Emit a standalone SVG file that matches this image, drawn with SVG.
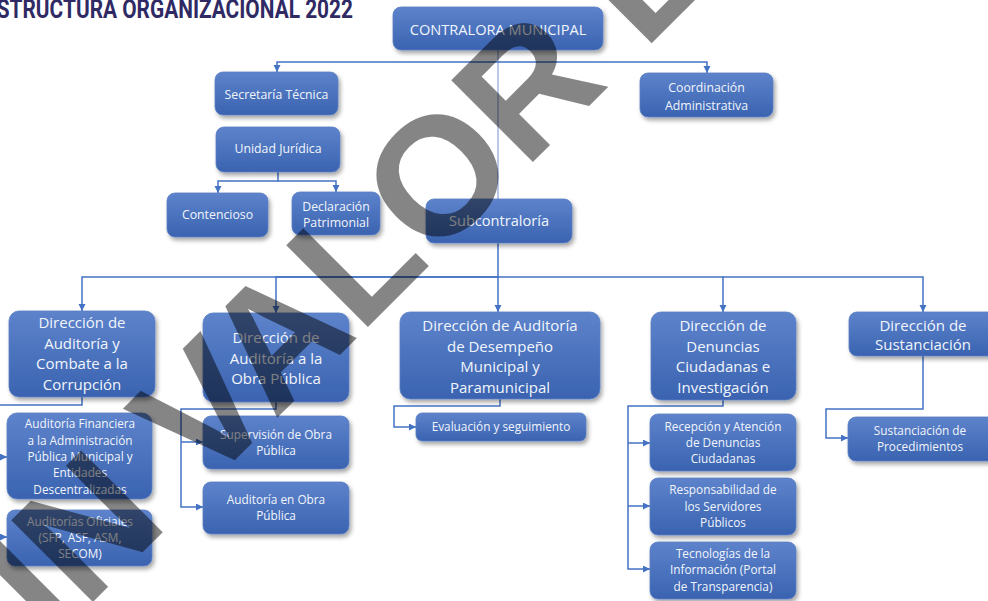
<svg xmlns="http://www.w3.org/2000/svg" width="988" height="601" viewBox="0 0 988 601">
<style>
.box{fill:url(#g);stroke:#5a7fc4;stroke-width:0.8;filter:url(#sh)}
.t{font-family:"Open Sans","Noto Sans","DejaVu Sans",sans-serif;fill:#f2f5fc;text-anchor:middle}
.s1{font-size:12.3px}
.s0{font-size:14.6px}
.s2{font-size:15px}
.s3{font-size:11.8px}
.c{fill:none;stroke:#4472c4;stroke-width:1.5}
.ca{fill:none;stroke:#4472c4;stroke-width:1.5;marker-end:url(#ar)}
.title{font-family:Roboto,"Liberation Sans",sans-serif;font-weight:bold;font-size:26px;fill:#2f2a64}
.wm{font-family:"Liberation Sans",Arial,sans-serif;font-weight:bold;font-size:168px;fill:#000;fill-opacity:0.48}
</style>
<defs>
<linearGradient id="g" x1="0" y1="0" x2="0" y2="1">
<stop offset="0" stop-color="#5d83cb"/>
<stop offset="1" stop-color="#3a63b0"/>
</linearGradient>
<filter id="sh" x="-10%" y="-10%" width="125%" height="135%">
<feDropShadow dx="2" dy="3" stdDeviation="2" flood-color="#000" flood-opacity="0.35"/>
</filter>
<marker id="ar" markerWidth="8" markerHeight="8" refX="7" refY="3.5" orient="auto" markerUnits="userSpaceOnUse">
<path d="M0,0 L7,3.5 L0,7 z" fill="#4472c4"/>
</marker>
</defs>

<text class="title" x="-15" y="18" textLength="368" lengthAdjust="spacingAndGlyphs">ESTRUCTURA ORGANIZACIONAL 2022</text>

<g id="connectors">
<path d="M498,50 V199" fill="none" stroke="#8ea5d8" stroke-width="1.2"/>
<path class="ca" d="M498,62 H277 V72"/>
<path class="ca" d="M498,62 H707 V73"/>
<path class="ca" d="M278,172 V181 H218 V193"/>
<path class="ca" d="M278,181 H336 V192"/>
<path class="ca" d="M498,243 V312"/>
<path class="ca" d="M498,277 H82 V311"/>
<path class="ca" d="M498,277 H276 V313"/>
<path class="ca" d="M498,277 H723 V312"/>
<path class="ca" d="M723,277 H923 V312"/>
<path class="ca" d="M82,397 V405 H-5 V537 H7"/>
<path class="ca" d="M-5,457 H7"/>
<path class="ca" d="M276,402 V409 H181 V507 H203"/>
<path class="ca" d="M181,442 H203"/>
<path class="ca" d="M500,399 V406 H394 V427 H416"/>
<path class="ca" d="M723,400 V406 H628 V569 H650"/>
<path class="ca" d="M628,443 H650"/>
<path class="ca" d="M628,506 H650"/>
<path class="ca" d="M923,356 V409 H826 V438 H848"/>
</g>

<g id="contralora"><rect class="box" x="393" y="7" width="210" height="43" rx="8"/><text class="t s0" x="498" y="35">CONTRALORA MUNICIPAL</text></g>
<g id="secretaria"><rect class="box" x="215" y="72" width="123" height="43" rx="8"/><text class="t s1" x="276.5" y="99">Secretaría Técnica</text></g>
<g id="coordinacion"><rect class="box" x="640" y="73" width="133" height="44" rx="8"/><text class="t s1" x="706.5" y="92">Coordinación<tspan x="706.5" y="110">Administrativa</tspan></text></g>
<g id="juridica"><rect class="box" x="216" y="127" width="124" height="45" rx="8"/><text class="t s1" x="278" y="153">Unidad Jurídica</text></g>
<g id="contencioso"><rect class="box" x="167" y="193" width="101" height="44" rx="8"/><text class="t s1" x="217.5" y="219">Contencioso</text></g>
<g id="declaracion"><rect class="box" x="292" y="192" width="88" height="43" rx="8"/><text class="t s1" x="336" y="211">Declaración<tspan x="336" y="227">Patrimonial</tspan></text></g>
<g id="subcontraloria"><rect class="box" x="426" y="199" width="146" height="44" rx="8"/><text class="t s0" x="499" y="226">Subcontraloría</text></g>

<g id="dir-combate"><rect class="box" x="9" y="311" width="146" height="86" rx="10"/><text class="t s2" x="82" y="328">Dirección de<tspan x="82" y="349">Auditoría y</tspan><tspan x="82" y="369">Combate a la</tspan><tspan x="82" y="390">Corrupción</tspan></text></g>
<g id="dir-obra"><rect class="box" x="203" y="313" width="146" height="89" rx="10"/><text class="t s2" x="276" y="343">Dirección de<tspan x="276" y="363.5">Auditoría a la</tspan><tspan x="276" y="384">Obra Pública</tspan></text></g>
<g id="dir-desempeno"><rect class="box" x="400" y="312" width="200" height="87" rx="10"/><text class="t s2" x="500" y="331">Dirección de Auditoría<tspan x="500" y="352">de Desempeño</tspan><tspan x="500" y="372">Municipal y</tspan><tspan x="500" y="393">Paramunicipal</tspan></text></g>
<g id="dir-denuncias"><rect class="box" x="651" y="312" width="145" height="88" rx="10"/><text class="t s2" x="723" y="331">Dirección de<tspan x="723" y="352">Denuncias</tspan><tspan x="723" y="372">Ciudadanas e</tspan><tspan x="723" y="393">Investigación</tspan></text></g>
<g id="dir-sustanciacion"><rect class="box" x="849" y="312" width="148" height="44" rx="8"/><text class="t s2" x="923" y="331">Dirección de<tspan x="923" y="350">Sustanciación</tspan></text></g>

<g id="aud-financiera"><rect class="box" x="7" y="413" width="145" height="86" rx="10"/><text class="t s3" x="80" y="428">Auditoría Financiera<tspan x="80" y="444.5">a la Administración</tspan><tspan x="80" y="461">Pública Municipal y</tspan><tspan x="80" y="477">Entidades</tspan><tspan x="80" y="493.5">Descentralizadas</tspan></text></g>
<g id="aud-oficiales"><rect class="box" x="7" y="510" width="145" height="56" rx="8"/><text class="t s3" x="80" y="526">Auditorías Oficiales<tspan x="80" y="542">(SFP, ASF, ASM,</tspan><tspan x="80" y="558">SECOM)</tspan></text></g>
<g id="supervision"><rect class="box" x="203" y="416" width="146" height="53" rx="8"/><text class="t s3" x="276" y="439">Supervisión de Obra<tspan x="276" y="455">Pública</tspan></text></g>
<g id="aud-obra"><rect class="box" x="203" y="482" width="146" height="52" rx="8"/><text class="t s3" x="276" y="504">Auditoría en Obra<tspan x="276" y="520">Pública</tspan></text></g>
<g id="evaluacion"><rect class="box" x="416" y="413" width="170" height="28" rx="6"/><text class="t s3" x="501" y="431">Evaluación y seguimiento</text></g>
<g id="recepcion"><rect class="box" x="650" y="414" width="146" height="57" rx="8"/><text class="t s3" x="723" y="431">Recepción y Atención<tspan x="723" y="447">de Denuncias</tspan><tspan x="723" y="463">Ciudadanas</tspan></text></g>
<g id="responsabilidad"><rect class="box" x="650" y="478" width="146" height="57" rx="8"/><text class="t s3" x="723" y="494">Responsabilidad de<tspan x="723" y="511">los Servidores</tspan><tspan x="723" y="527">Públicos</tspan></text></g>
<g id="tecnologias"><rect class="box" x="650" y="542" width="146" height="57" rx="8"/><text class="t s3" x="723" y="558">Tecnologías de la<tspan x="723" y="574">Información (Portal</tspan><tspan x="723" y="591">de Transparencia)</tspan></text></g>
<g id="sust-procedimientos"><rect class="box" x="848" y="417" width="150" height="44" rx="8"/><text class="t s3" x="920" y="435">Sustanciación de<tspan x="920" y="451">Procedimientos</tspan></text></g>

<g id="watermark">
<text class="wm" transform="translate(347.5,347.5) rotate(-45)" x="-530" y="0">SIN VALOR E</text>
</g>
</svg>
